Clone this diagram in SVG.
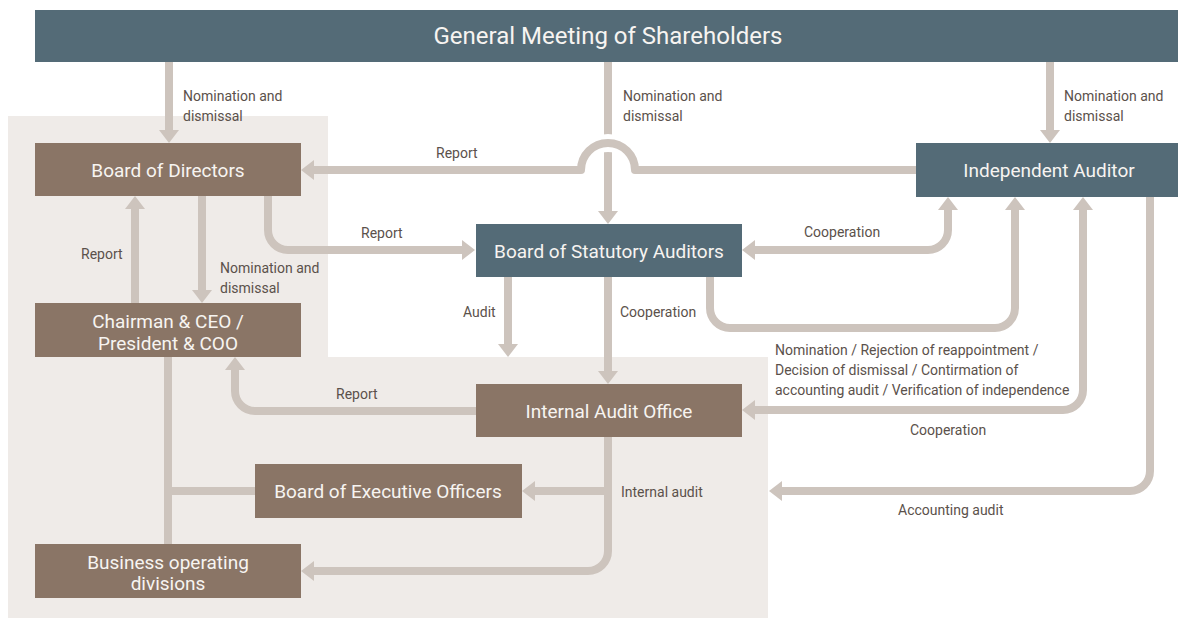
<svg xmlns="http://www.w3.org/2000/svg" width="1178" height="618" viewBox="0 0 1178 618">
<style>
.bg{fill:#EFEBE8}
.slate{fill:#546B77}
.brown{fill:#8A7566}
.nt{fill:#F7F4F1;font-family:Roboto,"Liberation Sans",sans-serif;font-size:19px;text-anchor:middle;dominant-baseline:central}
.lb{fill:#5B514B;font-family:Roboto,"Liberation Sans",sans-serif;font-size:14px}
.c{fill:none;stroke:#CDC4BD;stroke-width:8;stroke-linejoin:round}
.gap{fill:none;stroke:#FFFFFF;stroke-width:18}
</style>
<defs>
<marker id="ah" viewBox="0 0 13 20" refX="0" refY="10" markerWidth="13" markerHeight="20" markerUnits="userSpaceOnUse" orient="auto-start-reverse">
<path d="M0,0 L13,10 L0,20 Z" fill="#CDC4BD"/>
</marker>
</defs>
<rect width="1178" height="618" fill="#FFFFFF"/>
<path class="bg" d="M8,116 H328 V357 H768 V618 H8 Z"/>

<g id="connectors">
<path class="c" d="M169,62 V130" marker-end="url(#ah)"/>
<path class="c" d="M608,62 V211" marker-end="url(#ah)"/>
<path class="gap" d="M635,170 A27,27 0 0 0 581,170"/>
<path class="c" d="M916,170 H635 A27,27 0 0 0 581,170 H314" marker-end="url(#ah)"/>
<path class="c" d="M1050,62 V130" marker-end="url(#ah)"/>
<path class="c" d="M268,196 V230 A20,20 0 0 0 288,250 H462" marker-end="url(#ah)"/>
<path class="c" d="M202,196 V290" marker-end="url(#ah)"/>
<path class="c" d="M135,303 V209" marker-end="url(#ah)"/>
<path class="c" d="M755,250 H928 A20,20 0 0 0 948,230 V210" marker-start="url(#ah)" marker-end="url(#ah)"/>
<path class="c" d="M508,277 V344" marker-end="url(#ah)"/>
<path class="c" d="M608,277 V371" marker-end="url(#ah)"/>
<path class="c" d="M710,277 V308 A20,20 0 0 0 730,328 H995 A20,20 0 0 0 1015,308 V210" marker-end="url(#ah)"/>
<path class="c" d="M755,410 H1063 A20,20 0 0 0 1083,390 V210" marker-start="url(#ah)" marker-end="url(#ah)"/>
<path class="c" d="M1150,197 V471 A20,20 0 0 1 1130,491 H782" marker-end="url(#ah)"/>
<path class="c" d="M476,411 H255 A20,20 0 0 1 235,391 V370" marker-end="url(#ah)"/>
<path class="c" d="M608,437 V551 A20,20 0 0 1 588,571 H314" marker-end="url(#ah)"/>
<path class="c" d="M608,491 H535" marker-end="url(#ah)"/>
<path class="c" d="M168,357 V544 M168,491 H255"/>
</g>

<g id="labels">
<text class="lb" x="183" y="101">Nomination and</text>
<text class="lb" x="183" y="121">dismissal</text>
<text class="lb" x="623" y="101">Nomination and</text>
<text class="lb" x="623" y="121">dismissal</text>
<text class="lb" x="1064" y="101">Nomination and</text>
<text class="lb" x="1064" y="121">dismissal</text>
<text class="lb" x="436" y="158">Report</text>
<text class="lb" x="361" y="238">Report</text>
<text class="lb" x="804" y="237">Cooperation</text>
<text class="lb" x="81" y="259">Report</text>
<text class="lb" x="220" y="273">Nomination and</text>
<text class="lb" x="220" y="293">dismissal</text>
<text class="lb" x="463" y="317">Audit</text>
<text class="lb" x="620" y="317">Cooperation</text>
<text class="lb" x="775" y="355">Nomination / Rejection of reappointment /</text>
<text class="lb" x="775" y="375">Decision of dismissal / Contirmation of</text>
<text class="lb" x="775" y="395">accounting audit / Verification of independence</text>
<text class="lb" x="910" y="435">Cooperation</text>
<text class="lb" x="898" y="515">Accounting audit</text>
<text class="lb" x="336" y="399">Report</text>
<text class="lb" x="621" y="497">Internal audit</text>
</g>

<g id="gms">
<rect class="slate" x="35" y="10" width="1143" height="52"/>
<text class="nt" x="608" y="36" style="font-size:24px">General Meeting of Shareholders</text>
</g>
<g id="board-of-directors">
<rect class="brown" x="35" y="143" width="266" height="53"/>
<text class="nt" x="168" y="170">Board of Directors</text>
</g>
<g id="chairman">
<rect class="brown" x="35" y="303" width="266" height="54"/>
<text class="nt" x="168" y="321">Chairman &amp; CEO /</text>
<text class="nt" x="168" y="343">President &amp; COO</text>
</g>
<g id="statutory-auditors">
<rect class="slate" x="476" y="224" width="266" height="53"/>
<text class="nt" x="609" y="251">Board of Statutory Auditors</text>
</g>
<g id="independent-auditor">
<rect class="slate" x="916" y="143" width="262" height="54"/>
<text class="nt" x="1049" y="170">Independent Auditor</text>
</g>
<g id="internal-audit-office">
<rect class="brown" x="476" y="384" width="266" height="53"/>
<text class="nt" x="609" y="411">Internal Audit Office</text>
</g>
<g id="executive-officers">
<rect class="brown" x="255" y="464" width="267" height="54"/>
<text class="nt" x="388" y="491">Board of Executive Officers</text>
</g>
<g id="business-divisions">
<rect class="brown" x="35" y="544" width="266" height="54"/>
<text class="nt" x="168" y="562">Business operating</text>
<text class="nt" x="168" y="583">divisions</text>
</g>
</svg>
